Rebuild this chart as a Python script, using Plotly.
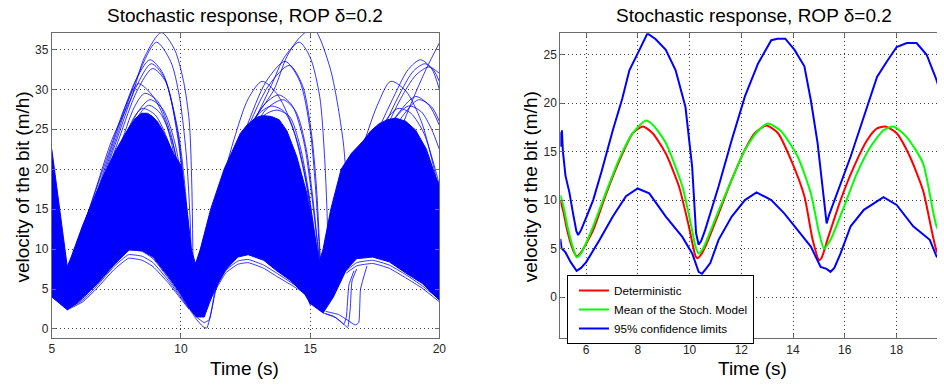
import plotly.graph_objects as go

# ---------------- Right panel data ----------------
t_upper = [5.0, 5.03, 5.06, 5.1, 5.2, 5.35, 5.5, 5.62, 5.69, 5.8, 6.0, 6.27, 6.6, 7.03, 7.4, 7.67, 8.06, 8.37,
           8.69, 9.08, 9.46, 9.84, 10.1, 10.25, 10.35, 10.45, 10.6, 11.12, 11.63, 12.14, 12.65, 13.16, 13.4,
           13.7, 14.06, 14.44, 14.69, 14.95, 15.2, 15.3, 15.4, 15.7, 16.23, 16.74, 17.25, 17.63, 18.01, 18.4,
           18.78, 19.17, 19.55, 20.0]
v_upper = [17.0, 15.5, 17.2, 15.0, 12.5, 10.8, 8.5, 6.8, 6.4, 6.9, 8.2, 10.0, 13.0, 17.2, 20.5, 23.4, 25.5, 27.2,
           26.6, 25.5, 23.4, 19.6, 13.4, 6.6, 5.4, 5.8, 6.9, 11.4, 16.2, 20.7, 24.1, 26.5, 26.65,
           26.65, 25.5, 23.8, 20.3, 15.9, 10.0, 7.6, 8.5, 10.7, 14.5, 18.6, 22.7, 24.3, 25.8, 26.2,
           26.2, 25.0, 22.4, 18.5]

t_det = [5.0, 5.1, 5.3, 5.5, 5.63, 5.8, 6.27, 6.78, 7.29, 7.8, 8.2, 8.57, 9.08, 9.59, 9.97, 10.23, 10.3, 10.45,
         10.61, 11.12, 11.63, 12.14, 12.52, 12.97, 13.42, 13.93, 14.44, 14.76, 15.01, 15.1, 15.33, 15.84,
         16.35, 16.87, 17.25, 17.57, 18.01, 18.52, 19.03, 19.55, 19.75, 20.0]
v_det = [10.0, 9.0, 6.5, 4.8, 4.2, 4.6, 6.9, 10.7, 14.1, 16.9, 17.6, 16.9, 14.8, 11.4, 7.3, 4.2, 4.0, 4.4,
         5.2, 8.6, 12.1, 15.2, 16.9, 17.7, 16.9, 14.1, 10.4, 5.9, 3.8, 4.0, 5.9, 10.0,
         13.4, 16.2, 17.4, 17.6, 16.9, 14.5, 11.0, 4.8, 4.0, 3.5]

t_mean = [5.0, 5.1, 5.3, 5.5, 5.63, 5.8, 6.27, 6.78, 7.29, 7.8, 8.31, 8.6, 9.08, 9.72, 10.05, 10.23, 10.35, 10.5,
          10.61, 11.12, 11.63, 12.14, 12.6, 13.03, 13.54, 14.18, 14.69, 15.01, 15.2, 15.45, 15.97, 16.48,
          17.0, 17.5, 17.88, 18.4, 19.03, 19.55, 20.0]
v_mean = [10.5, 9.6, 7.0, 5.0, 4.1, 4.5, 7.3, 10.9, 14.3, 16.9, 18.2, 17.7, 15.9, 11.4, 7.5, 5.2, 4.5, 4.9,
          5.5, 8.9, 12.1, 15.2, 17.0, 17.9, 17.1, 14.5, 10.7, 6.6, 5.0, 5.9, 9.3, 12.8,
          15.5, 17.2, 17.6, 16.5, 13.8, 7.3, 5.0]

t_lower = [5.0, 5.05, 5.1, 5.2, 5.4, 5.63, 5.8, 6.0, 6.52, 7.03, 7.54, 7.99, 8.44, 9.08, 9.72, 10.1, 10.35,
           10.48, 10.6, 10.8, 11.12, 11.63, 12.14, 12.59, 13.16, 13.67, 14.18, 14.69, 15.07, 15.3, 15.45,
           15.6, 15.84, 16.23, 16.74, 17.5, 18.01, 18.65, 19.29, 19.55, 20.0]
v_lower = [6.0, 5.0, 4.9, 4.6, 3.6, 2.7, 3.0, 3.6, 5.9, 8.3, 10.4, 11.2, 10.7, 8.3, 6.2, 4.5, 2.6,
           2.4, 2.8, 3.5, 5.9, 8.3, 10.0, 10.8, 10.0, 8.6, 6.9, 5.2, 3.1, 2.9, 2.6,
           3.0, 4.5, 7.3, 9.0, 10.3, 9.5, 7.3, 5.9, 4.2, 3.0]

# ---------------- Left panel data ----------------
# dense band of realizations: upper and lower edges
core_upper_t = [5.0, 5.1, 5.25, 5.45, 5.6, 5.75, 6.2, 6.6, 7.0, 7.5, 8.0, 8.25, 8.47, 8.7, 8.9, 9.1, 9.3, 9.5,
                9.7, 10.0, 10.25, 10.4, 10.55, 10.58, 10.75, 11.15, 11.67, 12.3, 12.55, 12.8, 13.0, 13.2,
                13.5, 13.8, 14.1, 14.48, 14.87, 15.1, 15.3, 15.35, 15.5, 15.8, 16.2, 16.6, 17.04, 17.35,
                17.67, 18.0, 18.31, 18.7, 19.08, 19.5, 19.85, 20.0]
core_upper_v = [22.5, 20.0, 16.0, 11.0, 7.8, 9.0, 13.0, 16.1, 19.2, 22.5, 25.3, 26.4, 27.0, 27.0, 26.6, 25.9, 24.8,
                23.5, 22.0, 20.5, 14.5, 10.0, 8.3, 8.3, 10.0, 15.0, 20.0, 24.5, 25.5, 26.2, 26.6, 26.7,
                26.6, 26.2, 24.8, 21.6, 17.0, 13.0, 9.5, 8.3, 10.0, 15.0, 20.0, 22.0, 23.5, 24.8,
                25.7, 26.2, 26.4, 26.0, 24.9, 22.5, 19.1, 18.0]
core_lower_t = [5.0, 5.3, 5.6, 6.0, 6.75, 7.4, 8.0, 8.5, 8.92, 9.5, 9.94, 10.33, 10.6, 10.9, 11.29, 11.73,
                12.2, 12.6, 13.2, 13.7, 14.22, 14.8, 15.0, 15.5, 15.9, 16.4, 16.8, 17.42, 18.06, 18.7,
                19.34, 20.0]
core_lower_v = [4.0, 3.2, 2.4, 3.3, 5.6, 8.0, 9.9, 9.8, 9.0, 6.6, 4.6, 2.6, 1.5, 1.5, 4.9, 7.4,
                9.0, 9.3, 8.6, 7.3, 6.1, 4.3, 3.2, 2.0, 4.0, 7.4, 8.8, 9.0, 8.4, 7.0,
                5.7, 3.6]

# individual realizations standing out above the band (time list, velocity list)
high_arcs = [
    ([5.65, 6.5, 7.33, 8.09, 8.6, 9.24, 9.75, 10.1, 10.32, 10.42, 10.47],
     [7.8, 15.5, 23.7, 29.1, 34.1, 37.1, 35.0, 31.0, 26.0, 18.0, 7.0]),
    ([5.65, 6.6, 7.5, 8.3, 9.05, 9.6, 9.94, 10.2, 10.35, 10.42],
     [7.8, 15.5, 24.0, 31.5, 35.9, 33.5, 29.1, 22.0, 14.0, 6.5]),
    ([5.65, 6.6, 7.5, 8.2, 8.8, 9.3, 9.88, 10.15, 10.32, 10.4],
     [7.8, 15.8, 24.5, 30.8, 33.7, 32.0, 24.9, 18.0, 11.0, 6.5]),
    ([5.65, 6.65, 7.55, 8.25, 8.85, 9.35, 9.85, 10.1, 10.3, 10.38],
     [7.8, 15.6, 24.0, 30.2, 33.2, 31.5, 25.0, 18.5, 11.0, 6.5]),
    ([5.7, 6.7, 7.6, 8.3, 8.9, 9.4, 9.85, 10.1, 10.3, 10.38],
     [7.8, 15.5, 23.8, 29.8, 32.6, 31.0, 24.5, 18.0, 11.0, 6.5]),
    ([5.65, 6.4, 7.2, 7.9, 8.35, 8.9, 9.4, 9.85, 10.15, 10.35],
     [7.8, 14.5, 22.0, 28.3, 30.7, 29.2, 26.0, 20.0, 14.0, 7.0]),
    ([5.7, 6.7, 7.6, 8.2, 8.6, 9.1, 9.6, 9.95, 10.2, 10.35],
     [7.8, 14.8, 22.5, 27.8, 29.5, 28.5, 24.5, 19.0, 12.0, 6.5]),
    ([5.7, 6.8, 7.7, 8.3, 8.8, 9.3, 9.75, 10.05, 10.25, 10.38],
     [7.8, 14.8, 22.5, 27.0, 28.7, 27.5, 23.5, 18.0, 11.5, 6.5]),
    ([5.7, 6.8, 7.8, 8.4, 8.75, 9.2, 9.7, 10.0, 10.25, 10.36],
     [7.8, 14.6, 22.2, 26.9, 28.0, 27.0, 23.0, 17.5, 11.0, 6.5]),
    ([5.7, 6.7, 7.6, 8.15, 8.5, 9.0, 9.5, 9.9, 10.2, 10.34],
     [7.8, 14.6, 21.8, 26.3, 27.6, 26.8, 23.5, 18.5, 12.0, 6.5]),
    ([10.6, 11.7, 12.7, 13.59, 14.1, 14.6, 15.12, 15.76, 16.27, 16.45, 16.55],
     [8.3, 17.5, 25.5, 29.9, 34.1, 36.5, 37.6, 32.8, 23.7, 16.0, 9.0]),
    ([10.6, 11.7, 12.7, 13.5, 14.0, 14.58, 15.0, 15.37, 15.55, 15.65, 15.7],
     [8.3, 17.0, 25.0, 30.5, 34.0, 35.9, 34.0, 29.1, 22.0, 15.0, 9.0]),
    ([10.6, 11.6, 12.5, 13.3, 14.03, 14.6, 15.0, 15.2, 15.32, 15.38],
     [8.3, 17.5, 25.0, 31.0, 33.5, 31.0, 24.9, 18.0, 12.0, 8.5]),
    ([10.6, 11.6, 12.5, 13.4, 14.2, 14.7, 15.05, 15.25, 15.35, 15.4],
     [8.3, 17.0, 24.5, 30.5, 33.0, 30.5, 24.5, 17.5, 11.5, 8.5]),
    ([10.6, 11.3, 12.05, 12.6, 13.14, 13.7, 14.3, 14.8, 15.1, 15.3],
     [8.3, 15.0, 23.7, 28.8, 31.0, 29.5, 25.5, 19.0, 13.0, 8.5]),
    ([10.6, 11.5, 12.4, 13.2, 13.78, 14.3, 14.75, 15.05, 15.25, 15.35],
     [8.3, 16.0, 23.5, 28.0, 29.3, 28.0, 23.5, 17.0, 11.5, 8.5]),
    ([10.6, 11.6, 12.5, 13.3, 13.95, 14.45, 14.85, 15.1, 15.28, 15.36],
     [8.3, 15.8, 23.0, 27.5, 28.7, 27.2, 22.5, 16.5, 11.0, 8.5]),
    ([10.6, 11.4, 12.3, 13.0, 13.5, 14.0, 14.5, 14.9, 15.2, 15.33],
     [8.3, 15.5, 23.2, 26.9, 27.9, 27.2, 23.5, 17.5, 11.5, 8.5]),
    ([10.6, 11.5, 12.4, 13.2, 13.7, 14.2, 14.6, 14.95, 15.2, 15.34],
     [8.3, 15.6, 22.8, 26.7, 27.4, 26.6, 23.0, 17.0, 11.0, 8.5]),
    ([16.6, 17.4, 18.2, 19.02, 19.5, 20.0],
     [9.0, 15.5, 22.5, 29.1, 32.6, 35.8]),
    ([15.4, 16.4, 17.3, 18.3, 18.8, 19.27, 19.7, 20.0],
     [8.5, 15.5, 22.5, 29.5, 32.5, 33.7, 32.6, 30.0]),
    ([15.4, 16.5, 17.4, 18.4, 19.0, 19.45, 19.8, 20.0],
     [8.5, 15.5, 22.0, 29.0, 32.3, 33.2, 32.3, 31.0]),
    ([15.4, 16.6, 17.5, 18.5, 19.1, 19.6, 20.0],
     [8.5, 15.5, 22.0, 28.8, 31.8, 32.8, 32.0]),
    ([15.4, 16.2, 16.9, 17.6, 18.12, 18.7, 19.3, 19.8, 20.0],
     [8.5, 14.5, 21.5, 28.0, 31.0, 29.8, 26.0, 20.0, 17.0]),
    ([15.4, 16.4, 17.3, 18.3, 19.08, 19.6, 20.0],
     [8.5, 14.5, 20.5, 26.5, 29.1, 28.0, 25.5]),
    ([15.4, 16.6, 17.5, 18.5, 19.2, 19.7, 20.0],
     [8.5, 15.0, 20.5, 26.3, 28.7, 27.8, 26.0]),
    ([15.4, 16.3, 17.2, 17.9, 18.4, 18.9, 19.4, 19.8, 20.0],
     [8.5, 14.8, 21.5, 26.0, 27.6, 27.0, 24.5, 20.5, 18.0]),
    ([15.4, 16.5, 17.4, 18.2, 18.8, 19.3, 19.7, 20.0],
     [8.5, 15.0, 21.0, 26.0, 27.9, 27.2, 25.0, 22.5]),
]

# individual realizations below the band
low_arcs = [
    ([5.6, 6.2, 6.75, 7.4, 7.97, 8.5, 8.92, 9.5, 9.94, 10.33],
     [2.4, 3.4, 5.1, 7.4, 8.85, 8.6, 7.8, 5.8, 4.0, 2.4]),
    ([5.6, 6.2, 6.75, 7.4, 7.97, 8.5, 8.92, 9.5, 9.94, 10.33],
     [2.5, 3.6, 5.4, 7.8, 9.3, 9.1, 8.3, 6.1, 4.2, 2.5]),
    ([5.6, 6.2, 6.75, 7.4, 7.97, 8.5, 8.92, 9.5, 9.94, 10.33],
     [2.6, 3.8, 5.8, 8.3, 9.9, 9.7, 8.8, 6.4, 4.4, 2.6]),
    ([10.8, 11.29, 11.73, 12.2, 12.6, 13.2, 13.7, 14.22, 14.86, 15.0],
     [1.5, 4.6, 7.0, 8.1, 8.3, 7.6, 6.6, 5.6, 4.25, 3.0]),
    ([10.8, 11.29, 11.73, 12.2, 12.6, 13.2, 13.7, 14.22, 14.86, 15.0],
     [1.6, 4.8, 7.3, 8.5, 8.7, 8.0, 7.0, 5.9, 4.5, 3.1]),
    ([16.4, 16.8, 17.42, 18.06, 18.7, 19.34, 20.0],
     [7.0, 7.9, 8.2, 7.6, 6.4, 5.1, 3.4]),
    ([16.4, 16.8, 17.42, 18.06, 18.7, 19.34, 20.0],
     [7.3, 8.3, 8.6, 8.0, 6.8, 5.4, 3.7]),
    ([10.35, 10.6, 10.85, 11.0, 11.2, 11.45, 11.8],
     [2.4, 1.2, 0.3, 0.1, 2.5, 6.3, 7.6]),
    ([10.35, 10.6, 10.9, 11.1, 11.3, 11.6],
     [2.5, 1.5, 0.8, 1.2, 4.5, 7.2]),
    ([15.5, 15.9, 16.2, 16.45, 16.55, 16.62, 16.8],
     [2.0, 1.6, 0.9, 0.2, 2.5, 6.0, 7.5]),
    ([15.6, 16.1, 16.5, 16.75, 16.88, 16.95, 17.2],
     [2.2, 1.8, 1.0, 0.5, 0.8, 5.0, 7.9]),
    ([15.6, 16.0, 16.3, 16.4, 16.5, 16.7],
     [1.9, 1.4, 0.6, 1.5, 5.5, 7.3]),
]

title_text = "Stochastic response, ROP \u03b4=0.2"
x_label = "Time (s)"
y_label = "velocity of the bit (m/h)"
left_xticks = [5, 10, 15, 20]
left_yticks = [0, 5, 10, 15, 20, 25, 30, 35]
right_xticks = [6, 8, 10, 12, 14, 16, 18, 20]
right_yticks = [0, 5, 10, 15, 20, 25]

BLUE = "#0000FF"
FONT = "Liberation Sans, Arial, Helvetica, sans-serif"

fig = go.Figure()

# dense band
fig.add_trace(go.Scatter(
    x=core_upper_t + core_lower_t[::-1], y=core_upper_v + core_lower_v[::-1],
    fill="toself", fillcolor=BLUE, mode="lines", line=dict(color=BLUE, width=1),
    xaxis="x", yaxis="y", showlegend=False, hoverinfo="skip"))

for xs, ys in high_arcs:
    fig.add_trace(go.Scatter(
        x=xs, y=ys, mode="lines", line=dict(color="rgba(0,0,255,0.8)", width=1, shape="spline", smoothing=0.8),
        xaxis="x", yaxis="y", showlegend=False, hoverinfo="skip"))
for xs, ys in low_arcs:
    fig.add_trace(go.Scatter(
        x=xs, y=ys, mode="lines", line=dict(color="rgba(0,0,255,0.8)", width=1, shape="spline", smoothing=0.4),
        xaxis="x", yaxis="y", showlegend=False, hoverinfo="skip"))

# right panel
fig.add_trace(go.Scatter(x=t_det, y=v_det, mode="lines", name="Deterministic",
                         line=dict(color="#FF0000", width=2, shape="spline", smoothing=0.6),
                         xaxis="x2", yaxis="y2"))
fig.add_trace(go.Scatter(x=t_mean, y=v_mean, mode="lines", name="Mean of the Stoch. Model",
                         line=dict(color="#00FF00", width=2, shape="spline", smoothing=0.6),
                         xaxis="x2", yaxis="y2"))
fig.add_trace(go.Scatter(x=t_upper, y=v_upper, mode="lines", name="95% confidence limits",
                         legendgroup="ci", line=dict(color=BLUE, width=2),
                         xaxis="x2", yaxis="y2"))
fig.add_trace(go.Scatter(x=t_lower, y=v_lower, mode="lines", name="95% confidence limits",
                         legendgroup="ci", showlegend=False, line=dict(color=BLUE, width=2),
                         xaxis="x2", yaxis="y2"))

W, H = 944, 385
axis_common = dict(showgrid=True, gridcolor="#3a3a3a", griddash="1px,3px", gridwidth=1,
                   showline=True, linecolor="#6b6b6b", linewidth=1,
                   ticks="inside", ticklen=4, tickcolor="#6b6b6b",
                   tickfont=dict(family=FONT, size=12, color="#262626"),
                   zeroline=False, fixedrange=True)

fig.update_layout(
    width=W, height=H, autosize=False,
    margin=dict(l=0, r=0, t=0, b=0),
    paper_bgcolor="white", plot_bgcolor="white",
    font=dict(family=FONT),
    xaxis=dict(domain=[49.3 / W, 441 / W], range=[5, 20], tickvals=left_xticks, mirror="ticks",
               anchor="y", **axis_common),
    yaxis=dict(domain=[1 - 338 / H, 1 - 33 / H], range=[-1.13, 37.05], tickvals=left_yticks,
               mirror="ticks", anchor="x", **axis_common),
    xaxis2=dict(domain=[563.3 / W, 1.0], range=[5, 19.57], tickvals=right_xticks, mirror="ticks",
                anchor="y2", **axis_common),
    yaxis2=dict(domain=[1 - 338.3 / H, 1 - 33.3 / H], range=[-4.26, 27.21], tickvals=right_yticks,
                anchor="x2", **axis_common),
    legend=dict(x=570 / W, y=1 - 275 / H, xanchor="left", yanchor="top",
                bgcolor="white", bordercolor="black", borderwidth=1, indentation=6,
                font=dict(family=FONT, size=11.7, color="black"), tracegroupgap=0),
    showlegend=True,
)

annos = [
    dict(text=title_text, x=245 / W, y=1 - 15 / H, size=19),
    dict(text=title_text, x=759 / W, y=1 - 15 / H, size=19),
    dict(text=x_label, x=244 / W, y=1 - 368 / H, size=19),
    dict(text=x_label, x=758 / W, y=1 - 368 / H, size=19),
]
for a in annos:
    fig.add_annotation(text=a["text"], x=a["x"], y=a["y"], xref="paper", yref="paper",
                       xanchor="center", yanchor="middle", showarrow=False,
                       font=dict(family=FONT, size=a["size"], color="black"))
for xc in (20 / W, 533.3 / W):
    fig.add_annotation(text=y_label, x=xc, y=1 - 186.7 / H, xref="paper", yref="paper",
                       xanchor="center", yanchor="middle", showarrow=False, textangle=-90,
                       font=dict(family=FONT, size=19, color="black"))

fig.write_html("out.html", config={"displayModeBar": False},
               post_script="document.body.style.margin='0px';document.body.style.overflow='hidden';")
